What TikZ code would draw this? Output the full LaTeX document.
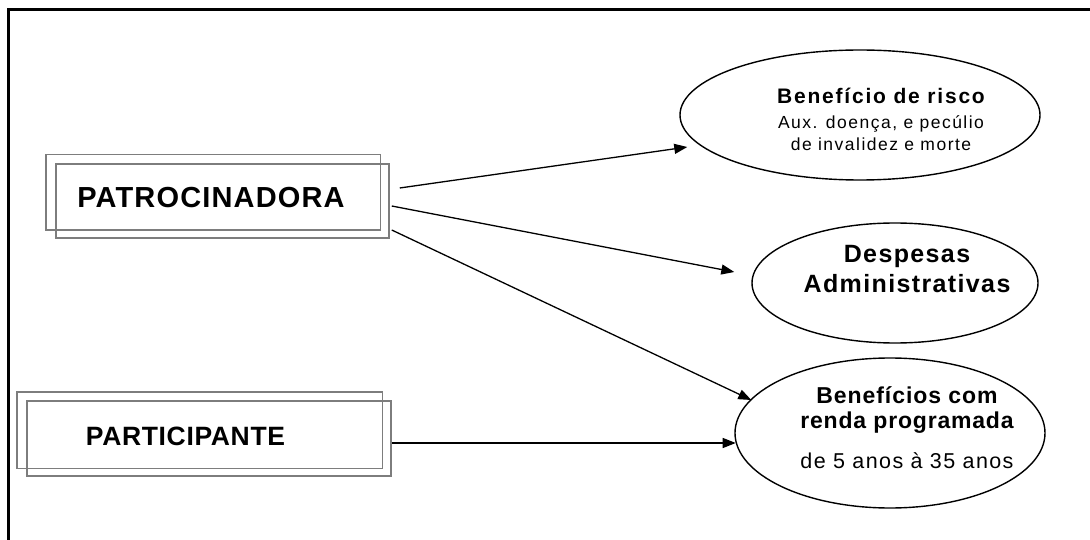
\documentclass[tikz,border=0pt]{standalone}
\usepackage{fontspec}
\setmainfont{Liberation Sans}
\usetikzlibrary{arrows.meta,shapes.geometric}
% size (px) and letter spacing for a label
\newcommand\lblfont[2]{\fontsize{#1pt}{#1pt}\selectfont\addfontfeatures{LetterSpace=#2}}
\definecolor{boxgrey}{RGB}{125,125,125}
\begin{document}
\begin{tikzpicture}[x=1pt,y=-1pt,
  frameline/.style={line width=2.6pt,black},
  frontbox/.style={draw=boxgrey,line width=1.5pt,inner sep=0pt,rectangle},
  backbox/.style={draw=boxgrey,line width=1.5pt},
  oval/.style={draw=black,line width=1.4pt,ellipse,inner sep=0pt},
  link/.style={line width=1.3pt,-{Triangle[length=13pt,width=10pt]}},
  txt/.style={anchor=base,inner sep=0pt}]
\useasboundingbox (0,0) rectangle (1090,540);

% outer frame (top and left edges)
\draw[frameline] (8.5,540) -- (8.5,9.5) -- (1090,9.5);

% sponsor box
\node[frontbox,minimum width=333pt,minimum height=74pt] (pat) at (222.5,201) {};
\draw[backbox] ([shift={(-9.5,-8.5)}]pat.north west) rectangle ([shift={(-9.5,-8.5)}]pat.south east);
\node[txt,font=\lblfont{29}{4}\bfseries] (patlbl) at (211,207.5) {PATROCINADORA};

% participant box
\node[frontbox,minimum width=364pt,minimum height=75pt] (part) at (209,438.5) {};
\draw[backbox] ([shift={(-9.5,-8.5)}]part.north west) rectangle ([shift={(-9.5,-8.5)}]part.south east);
\node[txt,font=\lblfont{26.5}{2.5}\bfseries] (partlbl) at (185.5,445.5) {PARTICIPANTE};

% destinations
\node[oval,minimum width=360pt,minimum height=130pt] (risco) at (860,115) {};
\node[txt,font=\lblfont{21}{8.5}\bfseries] (risco1) at (881,104) {Benefício de risco};
\node[txt,font=\lblfont{17.5}{8.5}] (risco2) at (881,128.5) {Aux. doença, e pecúlio};
\node[txt,font=\lblfont{17.5}{8.5}] (risco3) at (881,150.5) {de invalidez e morte};

\node[oval,minimum width=286pt,minimum height=120pt] (desp) at (895,283) {};
\node[txt,font=\lblfont{25}{5.5}\bfseries] (desp1) at (907,262.5) {Despesas};
\node[txt,font=\lblfont{25}{5.5}\bfseries] (desp2) at (907,292.5) {Administrativas};

\node[oval,minimum width=310pt,minimum height=150pt] (renda) at (890,433) {};
\node[txt,font=\lblfont{23}{4}\bfseries] (renda1) at (907,403.5) {Benefícios com};
\node[txt,font=\lblfont{23}{3.5}\bfseries] (renda2) at (907,428.5) {renda programada};
\node[txt,font=\lblfont{21.5}{6.5}] (renda3) at (907,468.5) {de 5 anos à 35 anos};

% flows
\draw[link] ([shift={(10,-13)}]pat.east) -- ([shift={(8,32)}]risco.west);
\draw[link] ([shift={(2,5)}]pat.east) -- ([shift={(-17,-11)}]desp.west);
\draw[link] ([shift={(2,29)}]pat.east) -- ([shift={(17,-33)}]renda.west);
\draw[link] ([shift={(0,4.5)}]part.east) -- ([shift={(1.4,10)}]renda.west);
\end{tikzpicture}
\end{document}
